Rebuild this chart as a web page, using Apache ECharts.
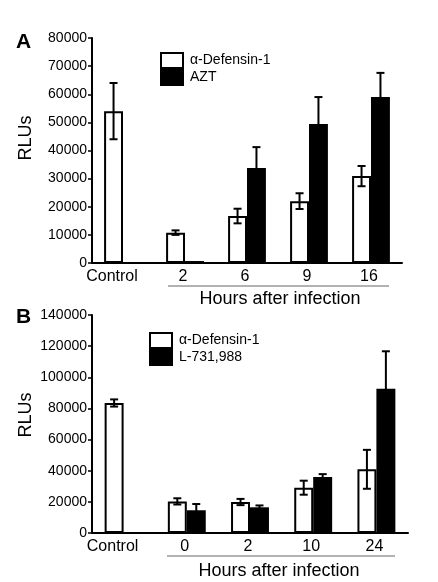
<!DOCTYPE html>
<html><head><meta charset="utf-8">
<script src="https://cdn.jsdelivr.net/npm/echarts@6/dist/echarts.min.js"></script>
<style>html,body{margin:0;padding:0;background:#fff}#c{width:438px;height:582px}</style>
</head><body><div id="c"></div>
<script>
// ---- Data ----
const catsA = ['Control', '2', '6', '9', '16'];
const namesA = ['α-Defensin-1', 'AZT'];
const defA = [54000, 10800, 16700, 22000, 30900];
const defErrA = [10000, 800, 2600, 2800, 3600];
const aztA = [null, 700, 33800, 49400, 59000];
const aztErrA = [null, null, 7400, 9600, 8600];

const catsB = ['Control', '0', '2', '10', '24'];
const namesB = ['α-Defensin-1', 'L-731,988'];
const defB = [83500, 20300, 19900, 29100, 40900];
const defErrB = [2300, 2000, 2000, 4500, 12500];
const lB = [null, 14600, 16500, 36000, 92700];
const lErrB = [null, 4000, 1200, 1800, 24000];

const ticksA = {min: 0, max: 80000, interval: 10000};
const ticksB = {min: 0, max: 140000, interval: 20000};
const xTitle = 'Hours after infection';
const yTitle = 'RLUs';

// ---- Helpers ----
const FONT = "'Liberation Sans', Arial, Helvetica, sans-serif";
const GAP_A = 0.39, GAP_B = 0.40;

function errData(vals, errs, side) {
  const out = [];
  vals.forEach((v, i) => { if (v != null && errs[i] != null) out.push([i, v, errs[i], side]); });
  return out;
}
function errRender(gap) {
  return function (params, api) {
    const cat = api.value(0), val = api.value(1), err = api.value(2), side = api.value(3);
    const band = api.size([1, 0])[0];
    const bw = band * (1 - gap) / 2;
    const x = api.coord([cat, val])[0] + side * bw / 2;
    const yt = api.coord([cat, val + err])[1];
    const yb = api.coord([cat, Math.max(0, val - err)])[1];
    const cw = 4;
    const st = {stroke: '#000', lineWidth: 2};
    return {type: 'group', children: [
      {type: 'line', shape: {x1: x, y1: yt, x2: x, y2: yb}, style: st},
      {type: 'line', shape: {x1: x - cw, y1: yt, x2: x + cw, y2: yt}, style: st},
      {type: 'line', shape: {x1: x - cw, y1: yb, x2: x + cw, y2: yb}, style: st}
    ]};
  };
}
function xAxis(cats, gi) {
  return {
    type: 'category', data: cats, gridIndex: gi,
    axisLine: {lineStyle: {color: '#000', width: 2}},
    axisTick: {show: false},
    axisLabel: {
      interval: 0,
      color: '#000', fontSize: 16, fontFamily: FONT, margin: 6,
      formatter: v => v === 'Control' ? '{c|' + v + '}' : '{n|' + v + '}',
      rich: {
        c: {fontSize: 16, fontFamily: FONT, color: '#000', padding: [0, 22, 0, 0]},
        n: {fontSize: 16, fontFamily: FONT, color: '#000', padding: [0, 4, 0, 0]}
      }
    }
  };
}
function yAxis(t, gi) {
  return {
    type: 'value', gridIndex: gi, min: t.min, max: t.max, interval: t.interval,
    splitLine: {show: false},
    axisLine: {show: true, lineStyle: {color: '#000', width: 2}},
    axisTick: {show: true, length: 4, lineStyle: {color: '#000', width: 1.5}},
    axisLabel: {color: '#000', fontSize: 14, fontFamily: FONT, margin: 5, formatter: v => String(v)}
  };
}
const whiteStyle = {color: '#fff', borderColor: '#000', borderWidth: 2};
const blackStyle = {color: '#000', borderColor: '#000', borderWidth: 0};

const chart = echarts.init(document.getElementById('c'), null, {renderer: 'canvas'});
chart.setOption({
  animation: false,
  backgroundColor: '#fff',
  grid: [
    {left: 92, top: 38, width: 310, height: 225},
    {left: 92, top: 315, width: 316, height: 218}
  ],
  xAxis: [xAxis(catsA, 0), xAxis(catsB, 1)],
  yAxis: [yAxis(ticksA, 0), yAxis(ticksB, 1)],
  legend: [
    {data: namesA, orient: 'vertical', left: 160, top: 52, itemWidth: 22, itemHeight: 15, itemGap: 0,
     icon: 'rect', selectedMode: false, padding: 0,
     itemStyle: {borderColor: '#000', borderWidth: 2},
     textStyle: {fontSize: 14, fontFamily: FONT, color: '#000', lineHeight: 15, padding: [0, 0, 0, 2]}},
    {data: namesB, orient: 'vertical', left: 149, top: 332, itemWidth: 22, itemHeight: 15, itemGap: 0,
     icon: 'rect', selectedMode: false, padding: 0,
     itemStyle: {borderColor: '#000', borderWidth: 2},
     textStyle: {fontSize: 14, fontFamily: FONT, color: '#000', lineHeight: 15, padding: [0, 0, 0, 2]}}
  ],
  series: [
    {type: 'bar', name: namesA[0], xAxisIndex: 0, yAxisIndex: 0, data: defA, barGap: '0%', barCategoryGap: (GAP_A * 100) + '%', itemStyle: whiteStyle, silent: true},
    {type: 'bar', name: namesA[1], xAxisIndex: 0, yAxisIndex: 0, data: aztA, barGap: '0%', barCategoryGap: (GAP_A * 100) + '%', itemStyle: blackStyle, silent: true},
    {type: 'custom', xAxisIndex: 0, yAxisIndex: 0, data: errData(defA, defErrA, -1), renderItem: errRender(GAP_A), z: 5, silent: true},
    {type: 'custom', xAxisIndex: 0, yAxisIndex: 0, data: errData(aztA, aztErrA, 1), renderItem: errRender(GAP_A), z: 5, silent: true},
    {type: 'bar', name: namesB[0], xAxisIndex: 1, yAxisIndex: 1, data: defB, barGap: '0%', barCategoryGap: (GAP_B * 100) + '%', itemStyle: whiteStyle, silent: true},
    {type: 'bar', name: namesB[1], xAxisIndex: 1, yAxisIndex: 1, data: lB, barGap: '0%', barCategoryGap: (GAP_B * 100) + '%', itemStyle: blackStyle, silent: true},
    {type: 'custom', xAxisIndex: 1, yAxisIndex: 1, data: errData(defB, defErrB, -1), renderItem: errRender(GAP_B), z: 5, silent: true},
    {type: 'custom', xAxisIndex: 1, yAxisIndex: 1, data: errData(lB, lErrB, 1), renderItem: errRender(GAP_B), z: 5, silent: true}
  ],
  graphic: [
    {type: 'text', left: 16, top: 32, style: {text: 'A', font: "bold 21px " + FONT, fill: '#000'}},
    {type: 'text', left: 16, top: 307, style: {text: 'B', font: "bold 21px " + FONT, fill: '#000'}},
    {type: 'text', x: 26, y: 138, rotation: Math.PI / 2, style: {text: yTitle, font: "18px " + FONT, fill: '#000', align: 'center', verticalAlign: 'middle'}},
    {type: 'text', x: 26, y: 415, rotation: Math.PI / 2, style: {text: yTitle, font: "18px " + FONT, fill: '#000', align: 'center', verticalAlign: 'middle'}},
    {type: 'line', shape: {x1: 168, y1: 286, x2: 389, y2: 286}, style: {stroke: '#666', lineWidth: 1}},
    {type: 'line', shape: {x1: 167, y1: 556, x2: 395, y2: 556}, style: {stroke: '#666', lineWidth: 1}},
    {type: 'text', x: 280, y: 299, style: {text: xTitle, font: "18px " + FONT, fill: '#000', align: 'center', verticalAlign: 'middle'}},
    {type: 'text', x: 279, y: 571, style: {text: xTitle, font: "18px " + FONT, fill: '#000', align: 'center', verticalAlign: 'middle'}}
  ]
});
</script></body></html>
